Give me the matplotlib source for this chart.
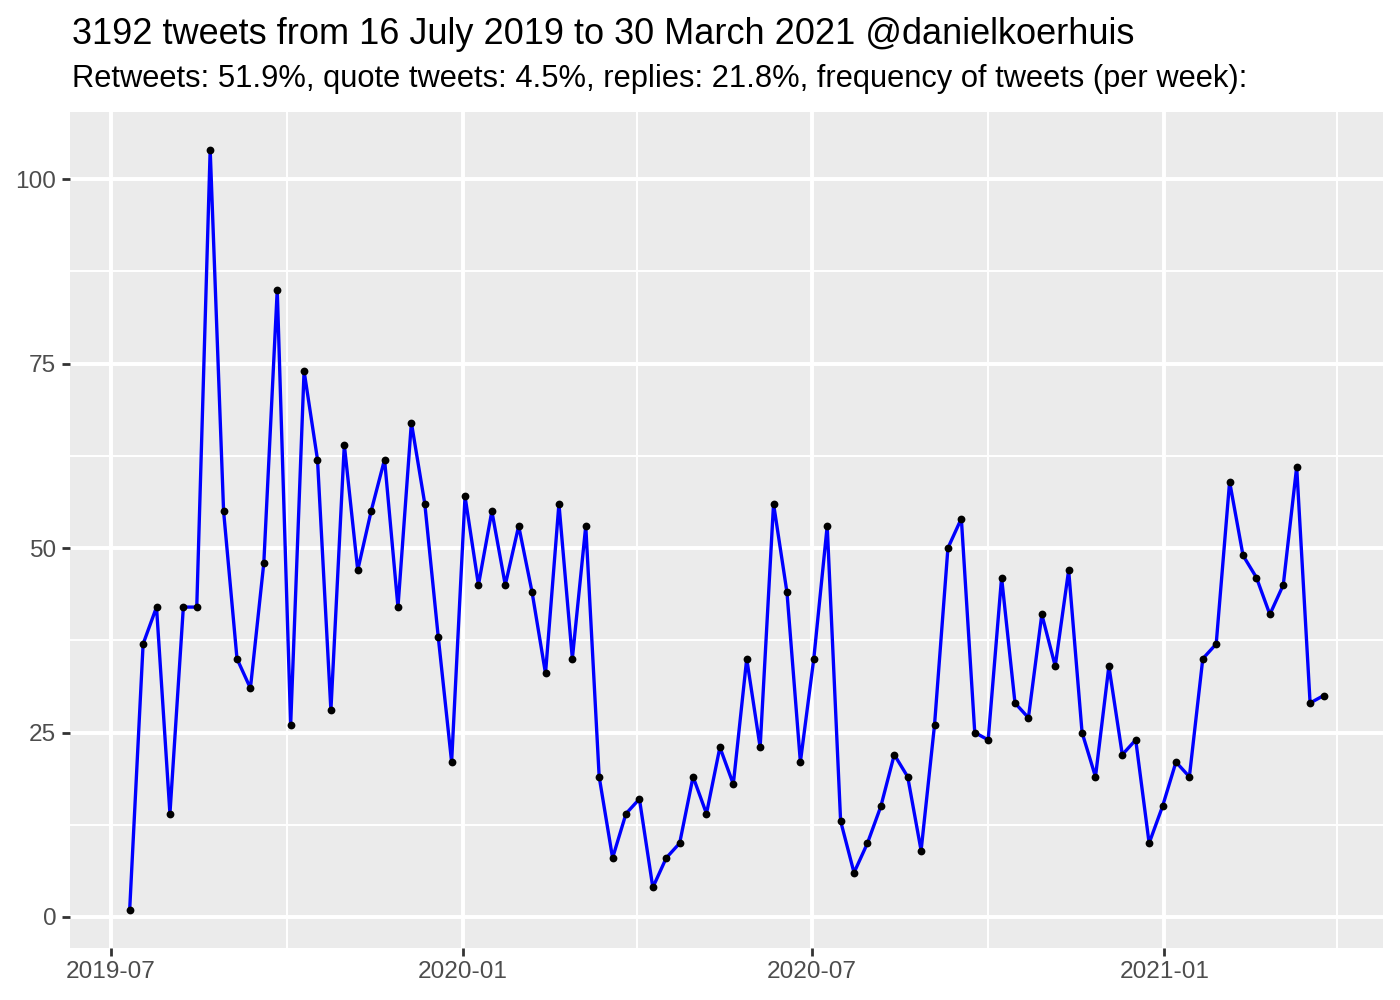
import matplotlib
matplotlib.use("Agg")
import matplotlib.pyplot as plt
import matplotlib.dates as mdates
import pandas as pd
import numpy as np

title = "3192 tweets from 16 July 2019 to 30 March 2021 @danielkoerhuis"
subtitle = "Retweets: 51.9%, quote tweets: 4.5%, replies: 21.8%, frequency of tweets (per week):"

start_week = "2019-07-11"
tweets_per_week = [
    1, 37, 42, 14, 42, 42, 104, 55, 35, 31,
    48, 85, 26, 74, 62, 28, 64, 47, 55, 62,
    42, 67, 56, 38, 21, 57, 45, 55, 45, 53,
    44, 33, 56, 35, 53, 19, 8, 14, 16, 4,
    8, 10, 19, 14, 23, 18, 35, 23, 56, 44,
    21, 35, 53, 13, 6, 10, 15, 22, 19, 9,
    26, 50, 54, 25, 24, 46, 29, 27, 41, 34,
    47, 25, 19, 34, 22, 24, 10, 15, 21, 19,
    35, 37, 59, 49, 46, 41, 45, 61, 29, 30,
]
x_tick_labels = ["2019-07", "2020-01", "2020-07", "2021-01"]
x_minor_ticks = ["2019-10", "2020-04", "2020-10", "2021-04"]
y_ticks = [0, 25, 50, 75, 100]
y_minor_ticks = [12.5, 37.5, 62.5, 87.5]

weeks = pd.date_range(start_week, periods=len(tweets_per_week), freq="7D")

plt.rcParams['font.family'] = ['Liberation Sans', 'DejaVu Sans']

fig = plt.figure(figsize=(7, 5), dpi=200)
ax = fig.add_axes([0.050, 0.0524, 0.938, 0.836])
ax.set_facecolor("#EBEBEB")
for s in ax.spines.values():
    s.set_visible(False)

xnum = mdates.date2num(weeks)
span = xnum[-1] - xnum[0]
ax.set_xlim(xnum[0] - 0.05 * span, xnum[-1] + 0.05 * span)
yr = max(tweets_per_week) - min(tweets_per_week)
ax.set_ylim(min(tweets_per_week) - 0.05 * yr, max(tweets_per_week) + 0.05 * yr)

xt = [mdates.date2num(pd.Timestamp(t + "-01")) for t in x_tick_labels]
xm = [mdates.date2num(pd.Timestamp(t + "-01")) for t in x_minor_ticks]
ax.set_xticks(xt)
ax.set_xticklabels(x_tick_labels)
ax.set_xticks(xm, minor=True)
ax.set_yticks(y_ticks)
ax.set_yticklabels([str(v) for v in y_ticks])
ax.set_yticks(y_minor_ticks, minor=True)

ax.grid(which="major", color="white", linewidth=1.42)
ax.grid(which="minor", color="white", linewidth=0.71)
ax.set_axisbelow(True)
ax.tick_params(which="major", length=2.75, width=1.0, color="#333333",
               labelsize=8.8, labelcolor="#4D4D4D", pad=2.2)
ax.tick_params(which="minor", length=0)

ax.plot(weeks, tweets_per_week, color="blue", linewidth=1.2, zorder=3)
ax.plot(weeks, tweets_per_week, linestyle="none", marker="o", markersize=1.8,
        color="black", zorder=4)

fig.text(72 / 1400, 1 - 44 / 1000, title, fontsize=13.0, color="black",
         ha="left", va="baseline")
fig.text(72 / 1400, 1 - 87 / 1000, subtitle, fontsize=11.13, color="black",
         ha="left", va="baseline")

fig.savefig("out.png", dpi=200)
